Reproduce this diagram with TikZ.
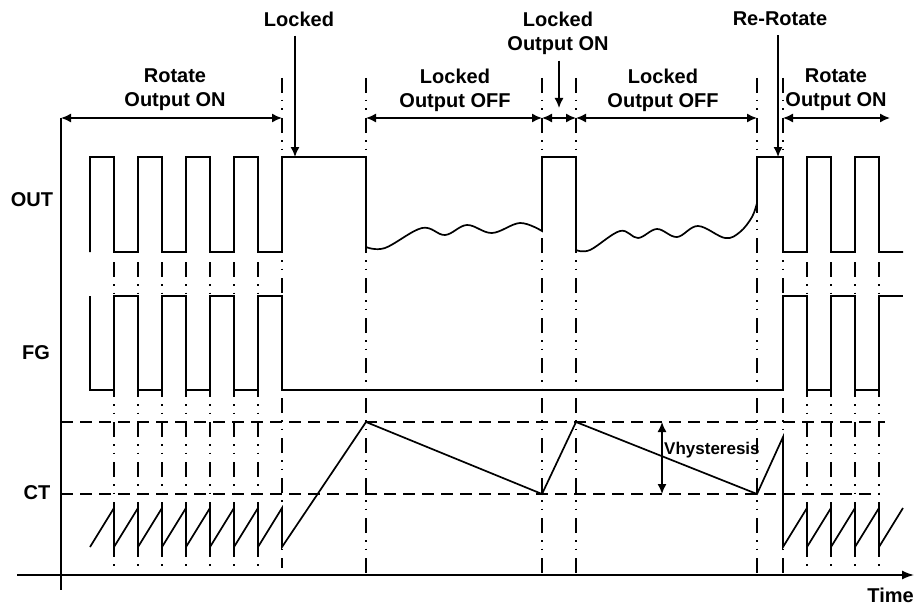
\documentclass[tikz,border=0pt]{standalone}
\usepackage{fontspec}
\setmainfont{Liberation Sans}
\usetikzlibrary{arrows.meta}

\begin{document}
\begin{tikzpicture}[x=1pt, y=-1pt,
  sig/.style={line width=1.7pt, line join=miter},
  guide/.style={line width=1.4pt, dash pattern=on 15pt off 7pt on 1.5pt off 7pt on 1.5pt off 8pt},
  level/.style={line width=1.5pt, dash pattern=on 12pt off 7pt},
  dim/.style={line width=1.5pt, {Latex[length=10pt,width=9pt]}-{Latex[length=10pt,width=9pt]}},
  pointer/.style={line width=1.5pt, -{Latex[length=10pt,width=9pt]}},
  lbl/.style={font=\fontsize{20}{24}\selectfont\bfseries, align=center, inner sep=0pt}]
\useasboundingbox (0,0) rectangle (915,607);

% Time marks
\coordinate (tA) at (61,118);
\coordinate (tB) at (282,118);
\coordinate (tC) at (366,118);
\coordinate (tD) at (542,118);
\coordinate (tE) at (576,118);
\coordinate (tF) at (757,118);
\coordinate (tG) at (783,118);
\coordinate (tH) at (890,118);

% Axes
\coordinate (axBot) at (61,590);
\coordinate (tLeft) at (17,575);
\coordinate (tRight) at (914,575);
\draw[line width=1.5pt] (tA) -- (axBot);
\draw[line width=1.5pt, -{Latex[length=12pt,width=9pt]}] (tLeft) -- (tRight);

% Guide lines
\foreach \x in {114,138,162,186,210,234,258,807,831,855,879}
  \draw[guide] (\x,262) -- (\x,567);
\foreach \x/\yb in {282/568,366/575,542/575,576/575,757/575,783/575}
  \draw[guide] (\x,78) -- (\x,\yb);

% CT levels
\draw[level] (61,422) -- (885,422);
\draw[level] (61,494) -- (880,494);

% OUT
\draw[sig] (90,252) \foreach \k in {0,...,3} {-- ++(0,-95) -- ++(24,0) -- ++(0,95) -- ++(24,0)}
  -- ++(0,-95) -- (366,157) -- (366,247)
  -- plot[smooth, tension=0.6] coordinates {(366,247) (385,248) (422,228) (445,235) (467,225) (492,233) (520,223) (542,231)}
  -- (542,157) -- (576,157) -- (576,250)
  -- plot[smooth, tension=0.6] coordinates {(576,250) (590,250) (620,231) (638,238) (657,229) (677,237) (698,226) (725,238) (740,232) (752,217) (757,203)}
  -- (757,157) -- (783,157) -- (783,252)
  \foreach \k in {0,1} {-- ++(24,0) -- ++(0,-95) -- ++(24,0) -- ++(0,95)} -- ++(24,0);

% FG
\draw[sig] (90,296) -- (90,390) \foreach \k in {0,...,3} {-- ++(24,0) -- ++(0,-94) -- ++(24,0) -- ++(0,94)}
  -- (783,390) \foreach \k in {0,1} {-- ++(0,-94) -- ++(24,0) -- ++(0,94) -- ++(24,0)}
  -- ++(0,-94) -- ++(24,0);

% CT
\draw[sig] (90,547) \foreach \k in {0,...,7} {-- ++(24,-39) -- ++(0,39)}
  -- (366,422) -- (542,494) -- (576,422) -- (757,494) -- (783,437) -- (783,547)
  \foreach \k in {0,...,3} {-- ++(24,-39) -- ++(0,39)} -- ++(24,-39);

% Phase arrows
\draw[dim] (tA) -- (tB);
\draw[dim] (tC) -- (tD);
\draw[dim] (tD) -- (tE);
\draw[dim] (tE) -- (tF);
\draw[dim] (tG) -- (tH);

% Phase labels
\node[lbl] (rotA) at (175,90) {Rotate\\Output ON};
\node[lbl] (offA) at (455,90) {Locked\\Output OFF};
\node[lbl] (offB) at (663,90) {Locked\\Output OFF};
\node[lbl] (rotB) at (836,90) {Rotate\\Output ON};

% Event labels
\node[lbl] (locked) at (299,19) {Locked};
\node[lbl] (lockon) at (558,33) {Locked\\Output ON};
\node[lbl] (rerot) at (780,19) {Re-Rotate};
\coordinate (lockTip) at (295,157);
\coordinate (onTip) at (559,108);
\coordinate (rrTip) at (778,157);
\draw[pointer, shorten <=9pt] (locked.south -| lockTip) -- (lockTip);
\draw[pointer, shorten <=6pt] (lockon.south -| onTip) -- (onTip);
\draw[pointer, shorten <=9pt] (rerot.south -| rrTip) -- (rrTip);

% Hysteresis
\coordinate (hysTop) at (662,422);
\coordinate (hysBot) at (662,494);
\draw[dim] (hysTop) -- (hysBot);
\node[lbl, anchor=base west, font=\fontsize{17}{20}\selectfont\bfseries] (hys) at (664,454) {Vhysteresis};

% Signal names
\node[lbl] (out) at (32,200) {OUT};
\node[lbl] (fg) at (36,353) {FG};
\node[lbl] (ct) at (37,493) {CT};
\node[lbl, anchor=base east] (time) at (914,602) {Time};
\end{tikzpicture}
\end{document}
